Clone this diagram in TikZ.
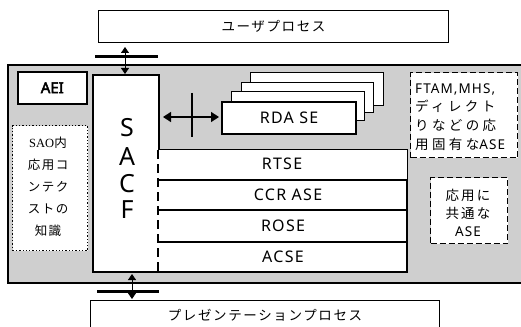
\documentclass[tikz,border=0pt]{standalone}
\usepackage{fontspec}
\setmainfont{Noto Sans}[LetterSpace=8]
\newfontfamily\aeif{Noto Sans}[FakeBold=3]
\newfontfamily\jp{Noto Sans CJK JP}[LetterSpace=12]
\newfontfamily\jpm{Noto Sans CJK JP}[LetterSpace=15]
\newfontfamily\jpw{Noto Sans CJK JP}[LetterSpace=25]
\newfontfamily\srf{Liberation Serif}
\usetikzlibrary{arrows.meta}
\tikzset{
  thinbox/.style={draw, line width=1pt, fill=white},
  boldbox/.style={draw, line width=2.2pt, fill=white},
  dhead/.style={{Triangle[width=8pt,length=6pt]}-{Triangle[width=8pt,length=6pt]}, line width=0.9pt},
  barline/.style={line width=3pt},
  lab/.style={inner sep=0pt, font=\fontsize{16}{18}\selectfont},
  jlab/.style={inner sep=0pt, font=\jp\fontsize{13.5}{15}\selectfont},
  dashbox/.style={draw, line width=1.3pt, dash pattern=on 6pt off 3pt, fill=white, anchor=north west, inner sep=0pt},
}
\begin{document}
\begin{tikzpicture}[x=1pt,y=-1pt]
\useasboundingbox (0,0) rectangle (521,326);
\clip (0,0) rectangle (521,326);
% AEI region
\fill[black!19] (8,65) rectangle (540,283);
\draw[line width=2.6pt] (540,65) -- (8,65) -- (8,283) -- (540,283);
% processes
\node[thinbox, anchor=north west, minimum width=350pt, minimum height=32pt, jlab] (user) at (98,10) {ユーザプロセス};
\node[thinbox, anchor=north west, minimum width=349pt, minimum height=30pt, jlab] (pres) at (90,300) {プレゼンテーションプロセス};
% AEI label
\node[draw, line width=1.6pt, fill=white, anchor=north west, minimum width=69pt, minimum height=32pt, inner sep=0pt, font=\aeif\fontsize{15}{16}\selectfont] (aei) at (17,71) {AEI};
% SACF + ASE stack
\fill[white] (93,75) -- (159,75) -- (159,149) -- (407,149) -- (407,272) -- (93,272) -- cycle;
\draw[line width=1pt] (158,149) -- (407,149) -- (407,180);
\draw[line width=2.2pt] (159,149) -- (159,75) -- (93,75) -- (93,272) -- (407,272) -- (407,180) -- (158,180);
\draw[line width=2.2pt] (158,210) -- (407,210);
\draw[line width=2.2pt] (158,242) -- (407,242);
\draw[line width=2pt, dash pattern=on 9pt off 5pt] (158,150) -- (158,272);
\node[lab] (rtse) at (282,164) {RTSE};
\node[lab] (ccr) at (288,195) {CCR ASE};
\node[lab] (rose) at (283,226) {ROSE};
\node[lab] (acse) at (283,257) {ACSE};
\node[inner sep=0pt, font=\fontsize{25}{25}\selectfont] (s) at (127,128) {S};
\node[inner sep=0pt, font=\fontsize{25}{25}\selectfont] (a) at (127,157) {A};
\node[inner sep=0pt, font=\fontsize{25}{25}\selectfont] (c) at (127,184) {C};
\node[inner sep=0pt, font=\fontsize{25}{25}\selectfont] (f) at (127,210) {F};
% SAO knowledge
\node[draw, dotted, line width=1.3pt, fill=white, minimum width=75pt, minimum height=125pt, anchor=north west, inner sep=0pt] (sao) at (12,125) {};
\node[inner sep=0pt, align=center, font=\jp\fontsize{12.5}{22}\selectfont] (saotxt) at (48,187) {{\srf SAO}内\\応用コ\\ンテク\\ストの\\知識};
% application specific ASE
\node[dashbox, minimum width=107pt, minimum height=85pt] (ftam) at (410,72) {};
\node[anchor=west, align=left, inner sep=0pt, font=\jpw\fontsize{13.5}{18.7}\selectfont] (ftamtxt) at (415,117) {{\rmfamily FTAM,MHS,}\\ディレクト\\りなどの応\\用固有な{\rmfamily ASE}};
% common ASE
\node[dashbox, minimum width=77pt, minimum height=66pt] (common) at (430,177) {};
\node[align=center, inner sep=0pt, font=\jpm\fontsize{13.5}{18}\selectfont] (commontxt) at (468,213) {応用に\\共通な\\{\rmfamily ASE}};
% RDA SE stack
\draw[thinbox] (250,73) rectangle (383,105);
\draw[thinbox] (241,83) rectangle (373,112);
\draw[thinbox] (231,92) rectangle (364,120);
\node[boldbox, anchor=north west, minimum width=134pt, minimum height=32pt, inner sep=0pt, font=\fontsize{16}{18}\selectfont] (rda) at (221,101) {RDA SE};
% connectors
\coordinate (sacftop) at (125,75);
\coordinate (sacfbot) at (132,272);
\coordinate (sacfR) at (159,117);
\draw[dhead, shorten <=4pt, shorten >=1pt] (user.south -| sacftop) -- (sacftop);
\draw[barline] (95,57) -- (158,57);
\draw[dhead, shorten <=2pt, shorten >=1pt] (sacfbot) -- (pres.north -| sacfbot);
\draw[barline] (97,291) -- (159,291);
\draw[{Triangle[width=10pt,length=8pt]}-{Triangle[width=10pt,length=8pt]}, line width=1.4pt, shorten <=4pt, shorten >=2pt] (sacfR) -- (rda.west |- sacfR);
\draw[line width=2pt] (192,93) -- (192,137);
\end{tikzpicture}
\end{document}
